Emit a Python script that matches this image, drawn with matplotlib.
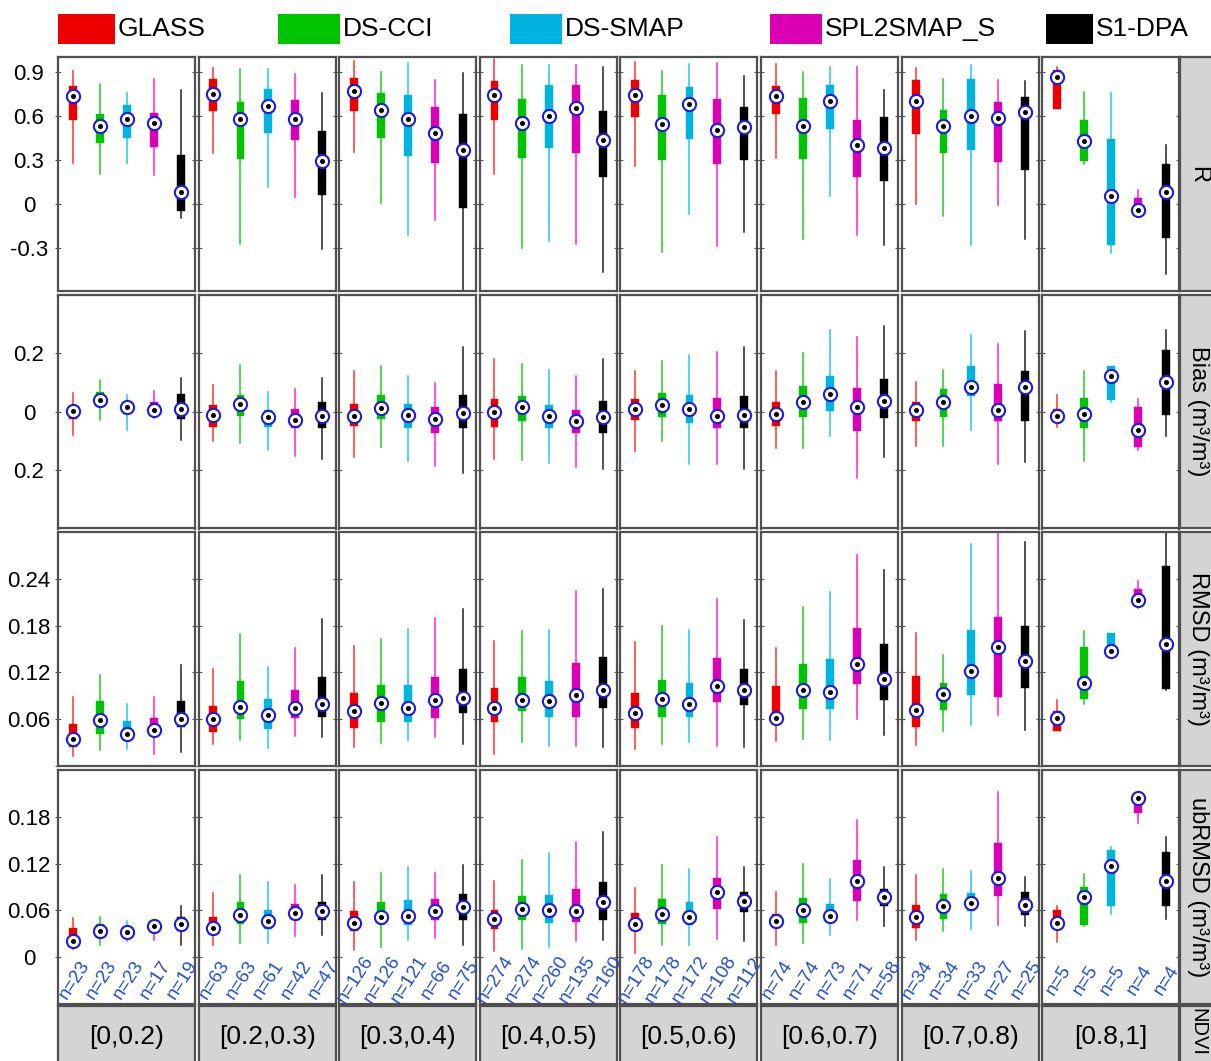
import matplotlib
matplotlib.use("Agg")
import matplotlib.pyplot as plt
from matplotlib.patches import Rectangle

plt.rcParams['font.family'] = ['Liberation Sans', 'DejaVu Sans']

# products and bins
products = ['GLASS', 'DS-CCI', 'DS-SMAP', 'SPL2SMAP_S', 'S1-DPA']
ndvi_bins = ['[0,0.2)', '[0.2,0.3)', '[0.3,0.4)', '[0.4,0.5)', '[0.5,0.6)', '[0.6,0.7)', '[0.7,0.8)', '[0.8,1]']
n_counts = [[23, 23, 23, 17, 19], [63, 63, 61, 42, 47], [126, 126, 121, 66, 75], [274, 274, 260, 135, 160],
            [178, 178, 172, 108, 112], [74, 74, 73, 71, 58], [34, 34, 33, 27, 25], [5, 5, 5, 4, 4]]

# box stats per bin and product: (whisker low, q1, median, q3, whisker high)
r_stats = [
    [(0.279, 0.571, 0.735, 0.806, 0.907), (0.206, 0.418, 0.53, 0.617, 0.822), (0.279, 0.45, 0.578, 0.674, 0.754), (0.201, 0.386, 0.553, 0.624, 0.85), (-0.098, -0.046, 0.082, 0.336, 0.781)],
    [(0.347, 0.633, 0.751, 0.852, 0.93), (-0.274, 0.308, 0.58, 0.699, 0.918), (0.119, 0.484, 0.669, 0.788, 0.92), (0.046, 0.436, 0.578, 0.708, 0.884), (-0.306, 0.064, 0.295, 0.498, 0.754)],
    [(0.354, 0.635, 0.77, 0.861, 0.975), (0.009, 0.448, 0.644, 0.754, 0.898), (-0.21, 0.324, 0.578, 0.745, 0.959), (-0.107, 0.279, 0.482, 0.66, 0.843), (-0.62, -0.025, 0.37, 0.617, 0.893)],
    [(0.206, 0.576, 0.747, 0.841, 0.987), (-0.302, 0.311, 0.555, 0.715, 0.95), (-0.256, 0.379, 0.603, 0.809, 0.946), (-0.274, 0.349, 0.656, 0.809, 0.95), (-0.464, 0.185, 0.439, 0.635, 0.937)],
    [(0.258, 0.594, 0.747, 0.847, 0.966), (-0.327, 0.297, 0.544, 0.742, 0.907), (-0.069, 0.445, 0.685, 0.8, 0.957), (-0.288, 0.27, 0.507, 0.717, 0.962), (-0.19, 0.302, 0.523, 0.665, 0.87)],
    [(0.315, 0.612, 0.74, 0.806, 0.957), (-0.24, 0.304, 0.53, 0.724, 0.898), (0.053, 0.509, 0.701, 0.815, 0.934), (-0.212, 0.187, 0.402, 0.576, 0.937), (-0.279, 0.155, 0.384, 0.592, 0.781)],
    [(-0.002, 0.475, 0.701, 0.847, 0.925), (-0.085, 0.349, 0.53, 0.64, 0.854), (-0.281, 0.37, 0.598, 0.852, 0.948), (-0.009, 0.283, 0.587, 0.694, 0.843), (-0.24, 0.235, 0.628, 0.731, 0.841)],
    [(0.651, 0.651, 0.866, 0.914, 0.937), (0.276, 0.295, 0.429, 0.573, 0.763), (-0.338, -0.281, 0.053, 0.445, 0.756), (-0.085, -0.075, -0.043, 0.041, 0.096), (-0.475, -0.233, 0.085, 0.276, 0.402)],
]
bias_stats = [
    [(-0.079, -0.026, 0.002, 0.016, 0.062), (-0.03, 0.016, 0.04, 0.067, 0.107), (-0.064, -0.007, 0.017, 0.03, 0.058), (-0.022, -0.009, 0.005, 0.031, 0.07), (-0.098, -0.026, 0.008, 0.06, 0.116)],
    [(-0.101, -0.052, -0.011, 0.023, 0.092), (-0.107, -0.014, 0.025, 0.056, 0.16), (-0.132, -0.052, -0.019, 0.005, 0.068), (-0.153, -0.055, -0.03, 0.008, 0.077), (-0.162, -0.055, -0.015, 0.031, 0.116)],
    [(-0.157, -0.049, -0.016, 0.024, 0.137), (-0.12, -0.024, 0.011, 0.057, 0.156), (-0.169, -0.056, -0.011, 0.025, 0.121), (-0.187, -0.073, -0.024, 0.016, 0.099), (-0.21, -0.055, -0.005, 0.056, 0.219)],
    [(-0.161, -0.052, -0.003, 0.042, 0.181), (-0.166, -0.033, 0.014, 0.052, 0.161), (-0.175, -0.057, -0.014, 0.023, 0.142), (-0.189, -0.075, -0.032, 0.006, 0.122), (-0.196, -0.072, -0.018, 0.035, 0.179)],
    [(-0.136, -0.03, 0.009, 0.044, 0.138), (-0.1, -0.019, 0.022, 0.064, 0.172), (-0.178, -0.039, 0.01, 0.055, 0.193), (-0.18, -0.056, -0.014, 0.047, 0.202), (-0.197, -0.057, -0.011, 0.054, 0.222)],
    [(-0.126, -0.049, -0.01, 0.033, 0.137), (-0.124, -0.018, 0.034, 0.088, 0.201), (-0.083, 0.002, 0.059, 0.12, 0.278), (-0.226, -0.065, 0.014, 0.082, 0.255), (-0.155, -0.021, 0.036, 0.111, 0.293)],
    [(-0.117, -0.033, 0.005, 0.033, 0.101), (-0.119, -0.018, 0.031, 0.077, 0.141), (-0.064, 0.054, 0.085, 0.155, 0.261), (-0.18, -0.034, 0.005, 0.093, 0.232), (-0.174, -0.034, 0.084, 0.138, 0.276)],
    [(-0.052, -0.035, -0.014, 0.007, 0.056), (-0.17, -0.058, -0.008, 0.047, 0.14), (0.034, 0.04, 0.122, 0.155, 0.157), (-0.133, -0.121, -0.062, 0.016, 0.044), (-0.084, -0.011, 0.101, 0.209, 0.277)],
]
rmsd_stats = [
    [(0.013, 0.025, 0.034, 0.054, 0.089), (0.021, 0.041, 0.059, 0.083, 0.117), (0.022, 0.032, 0.041, 0.058, 0.08), (0.016, 0.04, 0.046, 0.062, 0.088), (0.018, 0.05, 0.06, 0.083, 0.129)],
    [(0.028, 0.043, 0.06, 0.077, 0.125), (0.033, 0.06, 0.076, 0.109, 0.169), (0.023, 0.048, 0.066, 0.086, 0.127), (0.038, 0.062, 0.074, 0.098, 0.151), (0.037, 0.063, 0.08, 0.114, 0.189)],
    [(0.024, 0.049, 0.07, 0.093, 0.154), (0.03, 0.057, 0.081, 0.104, 0.163), (0.033, 0.057, 0.074, 0.104, 0.176), (0.037, 0.061, 0.084, 0.114, 0.19), (0.028, 0.068, 0.087, 0.125, 0.201)],
    [(0.016, 0.057, 0.075, 0.1, 0.16), (0.031, 0.07, 0.084, 0.114, 0.173), (0.026, 0.063, 0.083, 0.109, 0.175), (0.026, 0.063, 0.091, 0.132, 0.225), (0.025, 0.075, 0.098, 0.14, 0.227)],
    [(0.022, 0.049, 0.068, 0.094, 0.159), (0.028, 0.063, 0.086, 0.11, 0.18), (0.031, 0.063, 0.08, 0.107, 0.174), (0.026, 0.082, 0.103, 0.139, 0.214), (0.024, 0.078, 0.098, 0.125, 0.187)],
    [(0.032, 0.054, 0.062, 0.102, 0.151), (0.035, 0.073, 0.097, 0.131, 0.204), (0.033, 0.073, 0.095, 0.137, 0.223), (0.06, 0.105, 0.131, 0.177, 0.27), (0.04, 0.084, 0.112, 0.157, 0.251)],
    [(0.027, 0.05, 0.072, 0.116, 0.171), (0.045, 0.072, 0.092, 0.106, 0.142), (0.052, 0.091, 0.122, 0.174, 0.285), (0.065, 0.089, 0.152, 0.191, 0.31), (0.046, 0.1, 0.135, 0.18, 0.287)],
    [(0.045, 0.045, 0.062, 0.071, 0.085), (0.079, 0.086, 0.107, 0.153, 0.173), (0.142, 0.144, 0.147, 0.17, 0.17), (0.203, 0.207, 0.213, 0.227, 0.237), (0.097, 0.099, 0.156, 0.256, 0.31)],
]
ubrmsd_stats = [
    [(0.011, 0.018, 0.021, 0.037, 0.05), (0.015, 0.025, 0.034, 0.042, 0.051), (0.021, 0.025, 0.032, 0.038, 0.047), (0.022, 0.038, 0.04, 0.043, 0.044), (0.015, 0.034, 0.042, 0.052, 0.066)],
    [(0.016, 0.029, 0.038, 0.052, 0.082), (0.018, 0.043, 0.054, 0.071, 0.105), (0.018, 0.036, 0.046, 0.061, 0.096), (0.027, 0.048, 0.057, 0.068, 0.093), (0.028, 0.048, 0.059, 0.071, 0.106)],
    [(0.009, 0.034, 0.044, 0.059, 0.097), (0.013, 0.042, 0.051, 0.071, 0.108), (0.022, 0.041, 0.053, 0.073, 0.115), (0.024, 0.048, 0.059, 0.074, 0.108), (0.016, 0.048, 0.064, 0.081, 0.118)],
    [(0.008, 0.036, 0.049, 0.061, 0.098), (0.01, 0.048, 0.062, 0.078, 0.124), (0.013, 0.044, 0.06, 0.08, 0.133), (0.021, 0.045, 0.059, 0.088, 0.148), (0.022, 0.048, 0.071, 0.096, 0.161)],
    [(0.006, 0.034, 0.042, 0.057, 0.089), (0.015, 0.042, 0.055, 0.075, 0.118), (0.015, 0.041, 0.052, 0.071, 0.113), (0.023, 0.062, 0.083, 0.102, 0.154), (0.021, 0.058, 0.072, 0.083, 0.115)],
    [(0.015, 0.037, 0.046, 0.055, 0.083), (0.018, 0.044, 0.06, 0.076, 0.12), (0.029, 0.044, 0.053, 0.068, 0.1), (0.048, 0.072, 0.098, 0.124, 0.176), (0.04, 0.066, 0.077, 0.087, 0.115)],
    [(0.022, 0.038, 0.051, 0.067, 0.106), (0.033, 0.049, 0.065, 0.081, 0.113), (0.036, 0.059, 0.069, 0.082, 0.11), (0.041, 0.078, 0.102, 0.147, 0.212), (0.04, 0.054, 0.067, 0.083, 0.103)],
    [(0.02, 0.038, 0.044, 0.06, 0.066), (0.04, 0.041, 0.077, 0.09, 0.107), (0.055, 0.066, 0.117, 0.138, 0.141), (0.172, 0.185, 0.204, 0.205, 0.205), (0.049, 0.065, 0.098, 0.135, 0.154)],
]

row_names = ['R', 'Bias (m³/m³)', 'RMSD (m³/m³)', 'ubRMSD (m³/m³)']
row_data = [r_stats, bias_stats, rmsd_stats, ubrmsd_stats]
row_ylim = [(-0.594, 1.003), (-0.4, 0.4), (0.0, 0.3), (-0.06, 0.24)]
row_ticks = [[-0.3, 0, 0.3, 0.6, 0.9], [-0.2, 0, 0.2], [0, 0.06, 0.12, 0.18, 0.24], [0, 0.06, 0.12, 0.18]]
row_ticklabels = [['-0.3', '0', '0.3', '0.6', '0.9'], ['0.2', '0', '0.2'], ['', '0.06', '0.12', '0.18', '0.24'], ['0', '0.06', '0.12', '0.18']]

box_colors = ['#ee0000', '#00c400', '#00b4e0', '#dc00b4', '#000000']
whisk_colors = ['#ff3030', '#22cc22', '#22c8f0', '#ff22d8', '#222222']

W, H = 1211, 1061
fig = plt.figure(figsize=(W / 100, H / 100), dpi=100)


def rect(left, top, w, h):
    return [left / W, 1 - (top + h) / H, w / W, h / H]


edge = '#505050'
col_left = [58 + i * 140.6 for i in range(8)]
row_top = [57, 294.5, 532, 770]
pw, ph = 137, 234

for r in range(4):
    for c in range(8):
        ax = fig.add_axes(rect(col_left[c], row_top[r], pw, ph))
        stats = []
        for lo, q1, med, q3, hi in row_data[r][c]:
            stats.append({'whislo': lo, 'q1': q1, 'med': med, 'q3': q3, 'whishi': hi, 'fliers': []})
        pos = list(range(1, 6))
        bp = ax.bxp(stats, positions=pos, widths=0.29, patch_artist=True, showcaps=False,
                    showfliers=False, medianprops={'linewidth': 0})
        for k in range(5):
            bp['boxes'][k].set_facecolor(box_colors[k])
            bp['boxes'][k].set_edgecolor(box_colors[k])
            bp['boxes'][k].set_linewidth(0.3)
            bp['boxes'][k].set_zorder(3)
            for wl in bp['whiskers'][2 * k:2 * k + 2]:
                wl.set_color(whisk_colors[k])
                wl.set_linewidth(1.1)
                wl.set_zorder(2)
        meds = [s['med'] for s in stats]
        ax.plot(pos, meds, 'o', ls='none', ms=9.5, mfc='white', mec='#1c1cd6', mew=1.5, zorder=4)
        ax.plot(pos, meds, 'o', ls='none', ms=2.6, color='black', zorder=5)

        ax.set_xlim(0.46, 5.5)
        ax.set_ylim(*row_ylim[r])
        ax.set_xticks([])
        ax.set_yticks(row_ticks[r])
        ax.tick_params(axis='y', direction='inout', length=4, width=0.8, color='#555555',
                       left=True, right=True, labelsize=16, pad=19)
        if c == 0:
            ax.set_yticklabels(row_ticklabels[r])
            for lab in ax.get_yticklabels():
                lab.set_horizontalalignment('center')
        else:
            ax.set_yticklabels([])
        for sp in ax.spines.values():
            sp.set_color(edge)
            sp.set_linewidth(1.6)

        if r == 3:
            for k in range(5):
                ax.text(pos[k] + 0.05, -0.029, 'n=%d' % n_counts[c][k], rotation=57,
                        ha='center', va='center', fontsize=13.5, color='#1f4fc4',
                        rotation_mode='anchor')

    # right strip
    sax = fig.add_axes(rect(1179.5, row_top[r], 40, ph))
    sax.set_facecolor('#d4d4d4')
    sax.set_xticks([])
    sax.set_yticks([])
    for sp in sax.spines.values():
        sp.set_color(edge)
        sp.set_linewidth(1.6)
    sax.text(0.47, 0.5, row_names[r], rotation=-90, ha='center', va='center',
             fontsize=17, transform=sax.transAxes)

# bottom strips
for c in range(8):
    bax = fig.add_axes(rect(col_left[c], 1006, pw, 62))
    bax.set_facecolor('#d4d4d4')
    bax.set_xticks([])
    bax.set_yticks([])
    for sp in bax.spines.values():
        sp.set_color(edge)
        sp.set_linewidth(1.6)
    bax.text(0.5, 0.5, ndvi_bins[c], ha='center', va='center', fontsize=19,
             transform=bax.transAxes)

cax = fig.add_axes(rect(1179.5, 1006, 40, 62))
cax.set_facecolor('#d4d4d4')
cax.set_xticks([])
cax.set_yticks([])
for sp in cax.spines.values():
    sp.set_color(edge)
    sp.set_linewidth(1.6)
fig.text(1198 / W, 1 - 1008 / H, 'NDVI', rotation=-90, ha='center', va='top', fontsize=14.5)

# legend along the top
leg_patch_x = [58, 278, 510, 770, 1046]
leg_patch_w = [57, 62, 52, 52, 47]
for k in range(5):
    fig.patches.append(Rectangle((leg_patch_x[k] / W, 1 - 44 / H), leg_patch_w[k] / W, 30 / H,
                                 transform=fig.transFigure, facecolor=box_colors[k],
                                 edgecolor='none'))
    fig.text((leg_patch_x[k] + leg_patch_w[k] + 3) / W, 1 - 29 / H, products[k],
             ha='left', va='center', fontsize=19)

fig.savefig('out.png', dpi=100)
